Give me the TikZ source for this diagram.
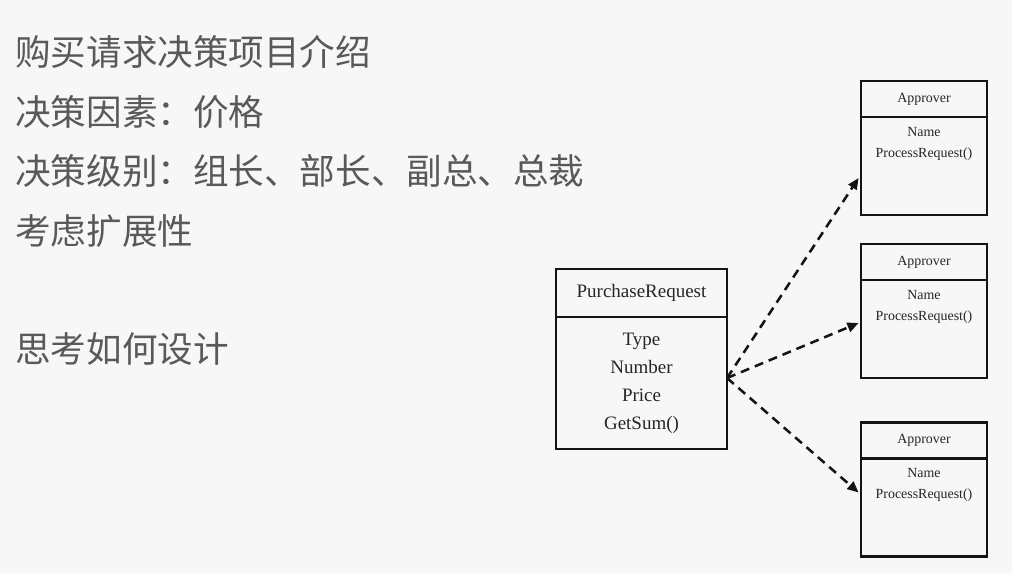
\documentclass[tikz,border=0pt]{standalone}
\usepackage{fontspec}
\setmainfont{Liberation Serif}
\newfontfamily\cjk{Noto Sans CJK SC}
\usetikzlibrary{positioning,arrows.meta}
\definecolor{slidebg}{HTML}{F7F7F7}
\definecolor{slidetext}{HTML}{595959}
\definecolor{umlline}{HTML}{141414}

\begin{document}
\begin{tikzpicture}[
  x=0.025cm, y=-0.025cm,
  intro/.style={anchor=base west, inner sep=0pt, font=\cjk\fontsize{25.3}{30}\selectfont, text=slidetext},
  box/.style={rectangle, draw=umlline, line width=1.5pt, inner sep=0pt, outer sep=0pt, align=center, text=black!85},
  prhead/.style={box, minimum width=4.275cm, minimum height=1.2cm, font=\fontsize{13.5}{19.9}\selectfont},
  prbody/.style={box, minimum width=4.275cm, minimum height=3.3cm, font=\fontsize{13.5}{19.9}\selectfont},
  aphead/.style={box, minimum width=3.15cm, minimum height=0.9cm, font=\fontsize{9.9}{14.9}\selectfont},
  apbody/.style={box, minimum width=3.15cm, minimum height=2.45cm},
  apattr/.style={anchor=north, inner sep=0pt, align=center, text=black!85, font=\fontsize{9.9}{14.9}\selectfont},
  dep/.style={-{Triangle[length=2.8mm, width=2.4mm]}, line width=1.8pt, draw=umlline,
              dash pattern=on 6.4pt off 4.3pt},
]

% background and frame of the slide
\fill[slidebg] (0,0) rectangle (1012,573);

% slide text
\node[intro] (t1) at (15,65) {购买请求决策项目介绍};
\node[intro] (t2) at (15,125) {决策因素：价格};
\node[intro] (t3) at (15,184) {决策级别：组长、部长、副总、总裁};
\node[intro] (t4) at (15,244) {考虑扩展性};
\node[intro] (t5) at (15,362) {思考如何设计};

% purchase request class
\node[prhead] (prh) at (641.5,293) {PurchaseRequest};
\node[prbody, below=0pt of prh] (pr) {Type\\Number\\Price\\GetSum()};

% approver classes
\node[aphead] (a1h) at (924,99) {Approver};
\node[apbody, below=0pt of a1h] (a1) {};
\node[apattr, below=0.25cm of a1.north] {Name\\ProcessRequest()};

\node[aphead] (a2h) at (924,262) {Approver};
\node[apbody, below=0pt of a2h] (a2) {};
\node[apattr, below=0.25cm of a2.north] {Name\\ProcessRequest()};

\node[aphead] (a3h) at (924,440.5) {Approver};
\node[apbody, below=0pt of a3h] (a3) {};
\node[apattr, below=0.25cm of a3.north] {Name\\ProcessRequest()};

% dependencies
\draw[dep] ([yshift=0.125cm]pr.east) -- ([xshift=-0.06cm, yshift=-0.3cm]a1.west);
\draw[dep] ([yshift=0.125cm]pr.east) -- ([xshift=-0.06cm, yshift=0.15cm]a2.west);
\draw[dep] ([yshift=0.125cm]pr.east) -- ([xshift=-0.06cm, yshift=0.375cm]a3.west);

\end{tikzpicture}
\end{document}
